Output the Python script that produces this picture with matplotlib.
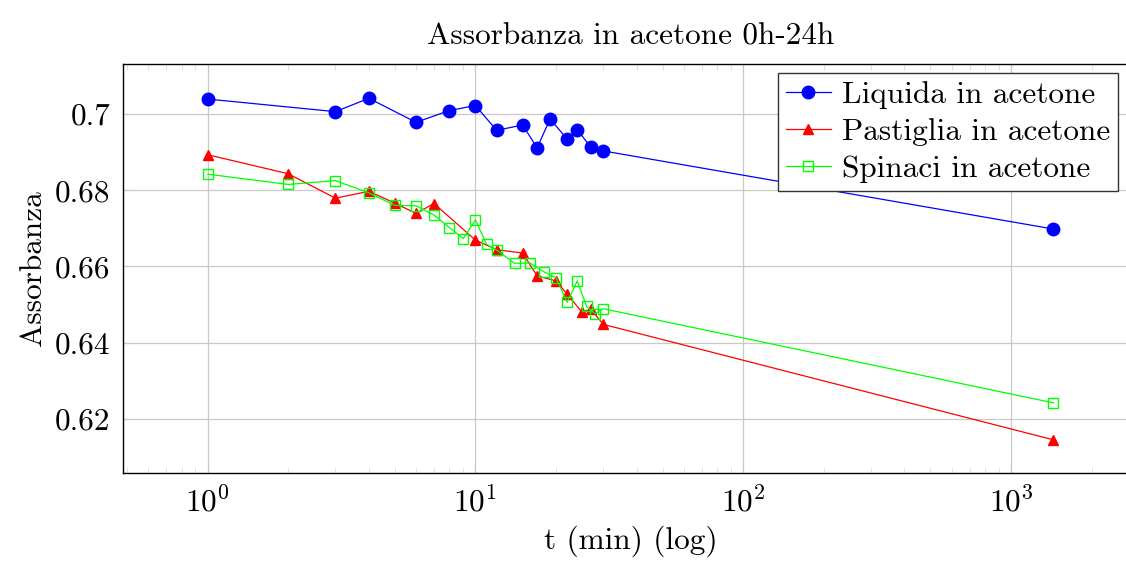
import numpy as np
import matplotlib
matplotlib.use("Agg")
import matplotlib.pyplot as plt
from matplotlib.ticker import LogLocator, FixedLocator, FuncFormatter, NullFormatter

plt.rcParams['font.family'] = ['cmr10', 'DejaVu Serif']
plt.rcParams['mathtext.fontset'] = 'cm'
plt.rcParams['axes.formatter.use_mathtext'] = True

# Dati (t in minuti)
t_liquida = [1, 3, 4, 6, 8, 10, 12, 15, 17, 19, 22, 24, 27, 30, 1440]
a_liquida = [0.7039, 0.7006, 0.7041, 0.6978, 0.7009, 0.7022, 0.6957, 0.6971,
             0.6911, 0.6987, 0.6934, 0.6959, 0.6912, 0.6903, 0.6698]

t_pastiglia = [1, 2, 3, 4, 5, 6, 7, 10, 12, 15, 17, 20, 22, 25, 27, 30, 1440]
a_pastiglia = [0.6893, 0.6843, 0.6779, 0.6797, 0.6766, 0.6739, 0.6765, 0.6669,
               0.6644, 0.6635, 0.6575, 0.6562, 0.6527, 0.6480, 0.6488, 0.6448, 0.6145]

t_spinaci = [1, 2, 3, 4, 5, 6, 7, 8, 9, 10, 11, 12, 14, 16, 18, 20, 22, 24, 26, 28, 30, 1440]
a_spinaci = [0.6842, 0.6815, 0.6825, 0.6793, 0.6760, 0.6759, 0.6735, 0.6702, 0.6673,
             0.6722, 0.6658, 0.6643, 0.6608, 0.6609, 0.6586, 0.6570, 0.6506, 0.6562,
             0.6495, 0.6476, 0.6489, 0.6242]

y_ticks = [0.62, 0.64, 0.66, 0.68, 0.70]

fig = plt.figure(figsize=(11.26, 5.65), dpi=100)
# l'asse destro esce dall'immagine (come nell'originale ritagliato)
ax = fig.add_axes([123 / 1126, 1 - 473 / 565, (1138 - 123) / 1126, (473 - 64) / 565])

ax.plot(t_liquida, a_liquida, color='blue', lw=0.9, marker='o', ms=9,
        label='Liquida in acetone')
ax.plot(t_pastiglia, a_pastiglia, color='red', lw=0.9, marker='^', ms=7,
        label='Pastiglia in acetone')
ax.plot(t_spinaci, a_spinaci, color='lime', lw=0.9, marker='s', ms=7.5,
        mfc='none', mew=1.0, label='Spinaci in acetone')

ax.set_xscale('log')
ax.set_xlim(10 ** -0.316, 10 ** 3.474)
ax.set_ylim(0.6058, 0.7131)

ax.xaxis.set_major_locator(LogLocator(base=10, numticks=10))
ax.xaxis.set_minor_locator(LogLocator(base=10, subs=np.arange(2, 10), numticks=20))
ax.xaxis.set_minor_formatter(NullFormatter())
ax.yaxis.set_major_locator(FixedLocator(y_ticks))
ax.yaxis.set_major_formatter(FuncFormatter(lambda v, p: f"{v:g}"))

ax.grid(True, which='major', color='#c8c8c8', lw=0.9)
ax.tick_params(which='both', direction='in', top=True, right=True, labelsize=22.5)
ax.tick_params(which='major', length=6, color='#c8c8c8', pad=9)
ax.tick_params(which='minor', length=4, color='#dddddd')
for s in ax.spines.values():
    s.set_linewidth(1.0)

ax.set_title('Assorbanza in acetone 0h-24h', fontsize=22.5, pad=14)
ax.set_xlabel('t (min) (log)', fontsize=22.5, labelpad=6)
ax.set_ylabel('Assorbanza', fontsize=22.5, labelpad=6)

leg = ax.legend(loc='upper right', bbox_to_anchor=((1118 - 123) / (1138 - 123), 1 - 9 / 409),
                fontsize=22.5, fancybox=False, edgecolor='#333333', framealpha=1,
                borderpad=0.25, labelspacing=0.3, handlelength=1.45, handletextpad=0.35,
                borderaxespad=0)
leg.get_frame().set_linewidth(1.0)

fig.savefig('out.png', dpi=100)
